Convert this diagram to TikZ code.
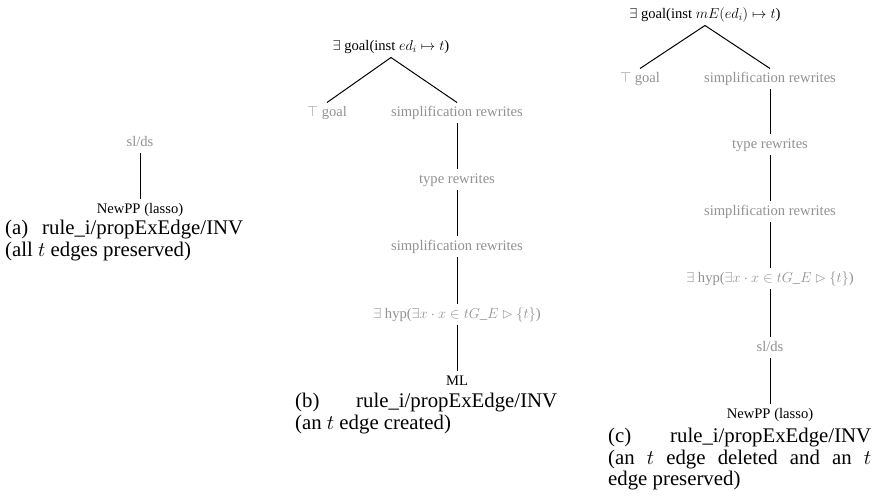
\documentclass[tikz,border=0pt]{standalone}
\usepackage{amssymb}
\usepackage{fontspec}
\setmainfont{Liberation Serif}
\newcommand\treefont{\fontsize{14.6}{16}\selectfont}
\newcommand\capfont{\fontsize{20.8}{21.5}\selectfont}
\begin{document}
\begin{tikzpicture}[x=1pt, y=-1pt,
    tac/.style={font=\treefont, text height=10pt, text depth=3pt,
                inner sep=4pt, outer sep=0pt, text=black!43},
    res/.style={tac, text=black},
    link/.style={line width=1pt},
    subcap/.style={font=\capfont, anchor=base west, inner sep=0pt,
                   align=justify}]
  \useasboundingbox (0, 0) rectangle (879, 502);

  % (a)
  \node [tac] (a1) at (140, 143) {sl/ds};
  \node [res] (a2) at (140, 210) {NewPP (lasso)};
  \draw [link] (a1) -- (a2);
  \node [subcap, text width=238pt] (acap) at (5, 235)
        {(a) rule\_i/propExEdge/INV\linebreak (all $t$ edges preserved)};

  % (b)
  \node [res] (b0) at (391, 47) {$\exists$ goal(inst $ed_i \mapsto t$)};
  \node [tac] (b1) at (327, 113) {$\top$ goal};
  \node [tac] (b2) at (457, 113) {simplification rewrites};
  \node [tac] (b3) at (457, 180) {type rewrites};
  \node [tac] (b4) at (457, 247) {simplification rewrites};
  \node [tac] (b5) at (457, 315) {$\exists$ hyp($\exists x \cdot x \in tG\_E \rhd \{t\}$)};
  \node [res] (b6) at (457, 382) {ML};
  \draw [link] (b0.south) -- (b1.north)
               (b0.south) -- (b2.north);
  \draw [link] (b2) -- (b3) (b3) -- (b4) (b4) -- (b5) (b5) -- (b6);
  \node [subcap, text width=262pt] (bcap) at (295, 408)
        {(b) rule\_i/propExEdge/INV\linebreak (an $t$ edge created)};

  % (c)
  \node [res] (c0) at (705, 15) {$\exists$ goal(inst $mE(ed_i) \mapsto t$)};
  \node [tac] (c1) at (640, 79) {$\top$ goal};
  \node [tac] (c2) at (770, 79) {simplification rewrites};
  \node [tac] (c3) at (770, 145) {type rewrites};
  \node [tac] (c4) at (770, 212) {simplification rewrites};
  \node [tac] (c5) at (770, 279) {$\exists$ hyp($\exists x \cdot x \in tG\_E \rhd \{t\}$)};
  \node [tac] (c6) at (770, 348) {sl/ds};
  \node [res] (c7) at (770, 415) {NewPP (lasso)};
  \draw [link] (c0.south) -- (c1.north)
               (c0.south) -- (c2.north);
  \draw [link] (c2) -- (c3) (c3) -- (c4) (c4) -- (c5) (c5) -- (c6) (c6) -- (c7);
  \node [subcap, text width=263pt] (ccap) at (608, 443)
        {(c) rule\_i/propExEdge/INV\linebreak (an $t$ edge deleted and an $t$\linebreak edge preserved)};
\end{tikzpicture}
\end{document}
